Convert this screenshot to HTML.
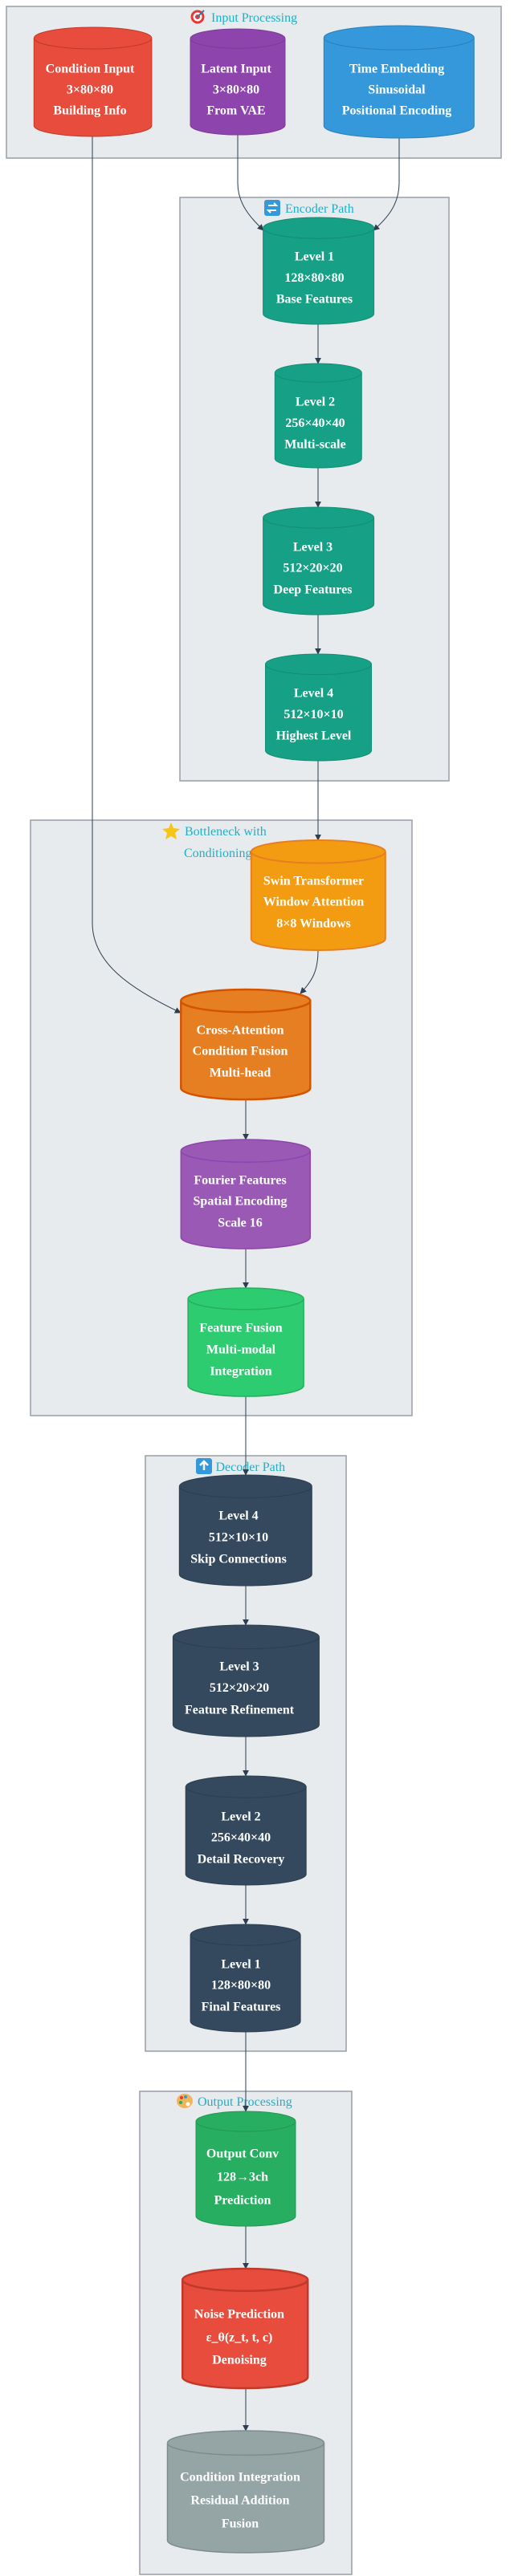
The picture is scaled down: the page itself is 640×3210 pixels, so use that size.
<!DOCTYPE html>
<html><head><meta charset="utf-8"><style>
html,body{margin:0;padding:0;background:#fff;}
svg{display:block;}
.box{fill:#e8ebee;stroke:#999ea6;stroke-width:1.5;}
.tt{font-family:"Liberation Serif",serif;font-size:16px;fill:#1fb0c4;}
.nt{font-family:"Liberation Serif",serif;font-size:16px;font-weight:bold;fill:#fff;text-anchor:middle;dominant-baseline:central;}
.e{fill:none;stroke:#2c3e50;stroke-width:1;}
</style></head><body>
<svg width="640" height="3210" viewBox="0 0 640 3210" xmlns="http://www.w3.org/2000/svg">
<defs>
<marker id="ah" viewBox="0 0 10 10" refX="9" refY="5" markerWidth="8" markerHeight="8" orient="auto" markerUnits="userSpaceOnUse">
<path d="M0,0 L10,5 L0,10 z" fill="#2c3e50"/>
</marker>
</defs>

<rect class="box" x="8" y="8" width="616" height="189"/>
<rect class="box" x="224" y="246" width="335" height="727"/>
<rect class="box" x="38" y="1022" width="475" height="742"/>
<rect class="box" x="181" y="1814" width="250" height="742"/>
<rect class="box" x="174" y="2606" width="264" height="602"/>

<g>
<circle cx="246" cy="21" r="8.5" fill="#e53935"/><circle cx="246" cy="21" r="5.5" fill="#fff"/><circle cx="246" cy="21" r="3" fill="#e53935"/>
<line x1="246" y1="21" x2="254" y2="13" stroke="#2980b9" stroke-width="2"/>
<text class="tt" x="263" y="27">Input Processing</text>
</g>
<g>
<rect x="329" y="249" width="20" height="20" rx="3" fill="#3498db"/>
<path d="M334,256 h10 l-3,-3 M344,262 h-10 l3,3" stroke="#fff" stroke-width="2" fill="none"/>
<text class="tt" x="355" y="265">Encoder Path</text>
</g>
<g>
<polygon points="213,1025 216,1032 224,1033 218,1038 220,1046 213,1042 206,1046 208,1038 202,1033 210,1032" fill="#f5c518"/>
<text class="tt" x="230" y="1041">Bottleneck with</text>
<text class="tt" x="229" y="1068">Conditioning</text>
</g>
<g>
<rect x="244" y="1817" width="20" height="20" rx="3" fill="#3498db"/>
<path d="M254,1832 v-11 M249,1826 l5,-5 l5,5" stroke="#fff" stroke-width="2.5" fill="none"/>
<text class="tt" x="268.5" y="1833">Decoder Path</text>
</g>
<g>
<ellipse cx="230" cy="2618" rx="10" ry="9" fill="#f0b45a"/>
<circle cx="226" cy="2614" r="2" fill="#e53935"/><circle cx="231" cy="2613" r="2" fill="#3498db"/><circle cx="225" cy="2620" r="2" fill="#27ae60"/><circle cx="234" cy="2622" r="2.5" fill="#fff"/>
<text class="tt" x="246" y="2624">Output Processing</text>
</g>

<path class="e" d="M115,170 L115,1150 C115,1200 162,1232 225,1262" marker-end="url(#ah)"/>
<path class="e" d="M296,168 L296,228 C296,255 313,272 328,287" marker-end="url(#ah)"/>
<path class="e" d="M497,172 L497,228 C497,255 482,272 465,287" marker-end="url(#ah)"/>
<path class="e" d="M396,404 L396,453" marker-end="url(#ah)"/>
<path class="e" d="M396,583 L396,632" marker-end="url(#ah)"/>
<path class="e" d="M396,766 L396,815" marker-end="url(#ah)"/>
<path class="e" d="M396,948 L396,1047" marker-end="url(#ah)"/>
<path class="e" d="M396,1184 C396,1210 389,1222 374,1238" marker-end="url(#ah)"/>
<path class="e" d="M306,1370 L306,1420" marker-end="url(#ah)"/>
<path class="e" d="M306,1556 L306,1605" marker-end="url(#ah)"/>
<path class="e" d="M306,1740 L306,1838" marker-end="url(#ah)"/>
<path class="e" d="M306,1976 L306,2025" marker-end="url(#ah)"/>
<path class="e" d="M306,2164 L306,2213" marker-end="url(#ah)"/>
<path class="e" d="M306,2349 L306,2398" marker-end="url(#ah)"/>
<path class="e" d="M306,2532 L306,2631" marker-end="url(#ah)"/>
<path class="e" d="M306,2774 L306,2827" marker-end="url(#ah)"/>
<path class="e" d="M306,2976 L306,3029" marker-end="url(#ah)"/>

<path d="M42.3,47.5 a73.3,13.5 0 0 0 146.6,0 a73.3,13.5 0 0 0 -146.6,0 l0,109 a73.3,13.5 0 0 0 146.6,0 l0,-109" fill="#e74c3c" stroke="#c0392b" stroke-width="1"/>
<text class="nt" x="112" y="86">Condition Input</text><text class="nt" x="112" y="112">3×80×80</text><text class="nt" x="112" y="138">Building Info</text>
<path d="M237,48.1 a59,12.1 0 0 0 118,0 a59,12.1 0 0 0 -118,0 l0,107.8 a59,12.1 0 0 0 118,0 l0,-107.8" fill="#8e44ad" stroke="#7d3c98" stroke-width="1"/>
<text class="nt" x="294" y="86">Latent Input</text><text class="nt" x="294" y="112">3×80×80</text><text class="nt" x="294" y="138">From VAE</text>
<path d="M403.3,47 a93.5,15 0 0 0 187,0 a93.5,15 0 0 0 -187,0 l0,110 a93.5,15 0 0 0 187,0 l0,-110" fill="#3498db" stroke="#2980b9" stroke-width="1"/>
<text class="nt" x="494" y="86">Time Embedding</text><text class="nt" x="494" y="112">Sinusoidal</text><text class="nt" x="494" y="138">Positional Encoding</text>

<path d="M327.6,284.1 a69,13.1 0 0 0 138,0 a69,13.1 0 0 0 -138,0 l0,106.8 a69,13.1 0 0 0 138,0 l0,-106.8" fill="#16a085" stroke="#138d75" stroke-width="1"/>
<text class="nt" x="391.5" y="320">Level 1</text><text class="nt" x="391.5" y="346.5">128×80×80</text><text class="nt" x="391.5" y="373">Base Features</text>
<path d="M342.3,464.6 a54,11.6 0 0 0 108,0 a54,11.6 0 0 0 -108,0 l0,106.8 a54,11.6 0 0 0 108,0 l0,-106.8" fill="#16a085" stroke="#138d75" stroke-width="1"/>
<text class="nt" x="392.5" y="501">Level 2</text><text class="nt" x="392.5" y="527.5">256×40×40</text><text class="nt" x="392.5" y="554">Multi-scale</text>
<path d="M327.6,645.1 a69,13.1 0 0 0 138,0 a69,13.1 0 0 0 -138,0 l0,107.8 a69,13.1 0 0 0 138,0 l0,-107.8" fill="#16a085" stroke="#138d75" stroke-width="1"/>
<text class="nt" x="389.5" y="682">Level 3</text><text class="nt" x="389.5" y="708">512×20×20</text><text class="nt" x="389.5" y="735">Deep Features</text>
<path d="M330.5,827.8 a66,12.8 0 0 0 132,0 a66,12.8 0 0 0 -132,0 l0,107.4 a66,12.8 0 0 0 132,0 l0,-107.4" fill="#16a085" stroke="#138d75" stroke-width="1"/>
<text class="nt" x="390.5" y="864">Level 4</text><text class="nt" x="390.5" y="890.5">512×10×10</text><text class="nt" x="390.5" y="917">Highest Level</text>

<path d="M312.8,1061.3 a83.5,14.3 0 0 0 167,0 a83.5,14.3 0 0 0 -167,0 l0,108.4 a83.5,14.3 0 0 0 167,0 l0,-108.4" fill="#f39c12" stroke="#e67e22" stroke-width="2"/>
<text class="nt" x="390.5" y="1098">Swin Transformer</text><text class="nt" x="390.5" y="1124">Window Attention</text><text class="nt" x="390.5" y="1151">8×8 Windows</text>
<path d="M225.3,1247.1 a80.5,14.1 0 0 0 161,0 a80.5,14.1 0 0 0 -161,0 l0,108.8 a80.5,14.1 0 0 0 161,0 l0,-108.8" fill="#e67e22" stroke="#d35400" stroke-width="2.5"/>
<text class="nt" x="299" y="1284">Cross-Attention</text><text class="nt" x="299" y="1310">Condition Fusion</text><text class="nt" x="299" y="1337">Multi-head</text>
<path d="M225.3,1434.1 a80.5,14.1 0 0 0 161,0 a80.5,14.1 0 0 0 -161,0 l0,107.8 a80.5,14.1 0 0 0 161,0 l0,-107.8" fill="#9b59b6" stroke="#8e44ad" stroke-width="1.5"/>
<text class="nt" x="299" y="1471">Fourier Features</text><text class="nt" x="299" y="1497">Spatial Encoding</text><text class="nt" x="299" y="1524">Scale 16</text>
<path d="M234.1,1618.4 a72,13.4 0 0 0 144,0 a72,13.4 0 0 0 -144,0 l0,108.2 a72,13.4 0 0 0 144,0 l0,-108.2" fill="#2ecc71" stroke="#27ae60" stroke-width="1.5"/>
<text class="nt" x="300" y="1655">Feature Fusion</text><text class="nt" x="300" y="1682">Multi-modal</text><text class="nt" x="300" y="1709">Integration</text>

<path d="M223.3,1852.2 a82.5,14.2 0 0 0 165,0 a82.5,14.2 0 0 0 -165,0 l0,109.6 a82.5,14.2 0 0 0 165,0 l0,-109.6" fill="#34495e" stroke="#2c3e50" stroke-width="1"/>
<text class="nt" x="297" y="1889">Level 4</text><text class="nt" x="297" y="1916">512×10×10</text><text class="nt" x="297" y="1943">Skip Connections</text>
<path d="M215.4,2039.8 a91,14.8 0 0 0 182,0 a91,14.8 0 0 0 -182,0 l0,109.4 a91,14.8 0 0 0 182,0 l0,-109.4" fill="#34495e" stroke="#2c3e50" stroke-width="1"/>
<text class="nt" x="298" y="2077">Level 3</text><text class="nt" x="298" y="2103.5">512×20×20</text><text class="nt" x="298" y="2131">Feature Refinement</text>
<path d="M231.2,2226.6 a75,13.6 0 0 0 150,0 a75,13.6 0 0 0 -150,0 l0,108.8 a75,13.6 0 0 0 150,0 l0,-108.8" fill="#34495e" stroke="#2c3e50" stroke-width="1"/>
<text class="nt" x="300" y="2264">Level 2</text><text class="nt" x="300" y="2290">256×40×40</text><text class="nt" x="300" y="2317">Detail Recovery</text>
<path d="M237.1,2411.1 a68.5,13.1 0 0 0 137,0 a68.5,13.1 0 0 0 -137,0 l0,107.8 a68.5,13.1 0 0 0 137,0 l0,-107.8" fill="#34495e" stroke="#2c3e50" stroke-width="1"/>
<text class="nt" x="300" y="2448">Level 1</text><text class="nt" x="300" y="2474">128×80×80</text><text class="nt" x="300" y="2501">Final Features</text>

<path d="M244,2643.5 a62,12.5 0 0 0 124,0 a62,12.5 0 0 0 -124,0 l0,118 a62,12.5 0 0 0 124,0 l0,-118" fill="#27ae60" stroke="#229954" stroke-width="1"/>
<text class="nt" x="302" y="2684">Output Conv</text><text class="nt" x="302" y="2713">128→3ch</text><text class="nt" x="302" y="2742">Prediction</text>
<path d="M227.2,2840.9 a78,13.9 0 0 0 156,0 a78,13.9 0 0 0 -156,0 l0,121.2 a78,13.9 0 0 0 156,0 l0,-121.2" fill="#e74c3c" stroke="#c0392b" stroke-width="2.5"/>
<text class="nt" x="298" y="2884">Noise Prediction</text><text class="nt" x="298" y="2913">ε_θ(z_t, t, c)</text><text class="nt" x="298" y="2941">Denoising</text>
<path d="M208.5,3044.2 a97.5,15.2 0 0 0 195,0 a97.5,15.2 0 0 0 -195,0 l0,121.6 a97.5,15.2 0 0 0 195,0 l0,-121.6" fill="#95a5a6" stroke="#7f8c8d" stroke-width="1.5"/>
<text class="nt" x="299" y="3087">Condition Integration</text><text class="nt" x="299" y="3116">Residual Addition</text><text class="nt" x="299" y="3145">Fusion</text>
</svg>
</body></html>
